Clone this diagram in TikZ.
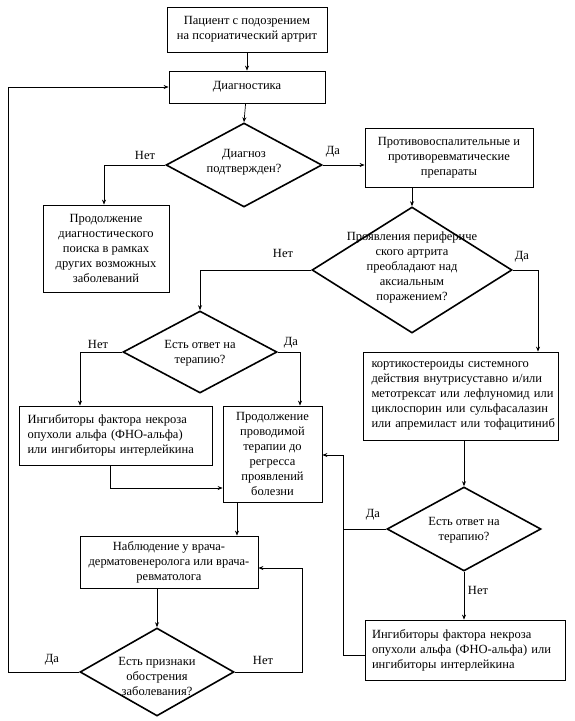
\documentclass[tikz,border=0pt]{standalone}
\usepackage{fontspec}
\setmainfont{Liberation Serif}
\usetikzlibrary{shapes.geometric,arrows.meta}
\newcommand{\fsz}{\fontsize{12.5pt}{15pt}\selectfont}
\begin{document}
\begin{tikzpicture}[x=1pt,y=-1pt,
  box/.style={draw, line width=0.8pt, inner sep=0pt, align=center, font=\fsz},
  dia/.style={draw, diamond, line width=1.6pt, inner sep=0pt},
  txt/.style={inner sep=0pt, align=center, font=\fsz},
  lab/.style={inner sep=0pt, font=\fsz},
  arr/.style={-{Stealth[length=5pt,width=4pt]}, line width=0.7pt},
  ln/.style={line width=0.7pt}]
\useasboundingbox (0,0) rectangle (574,721);
\fill[white] (0,0) rectangle (574,721);

% boxes
\node[box, minimum width=160pt, minimum height=45pt] (b1) at (247,29.5) {Пациент с подозрением\\на псориатический артрит};
\node[box, minimum width=156pt, minimum height=32pt] (b2) at (247,87) {Диагностика};
\node[box, minimum width=126pt, minimum height=87pt] (b3) at (106,248.5) {Продолжение\\диагностического\\поиска в рамках\\других возможных\\заболеваний};
\node[box, minimum width=168pt, minimum height=59pt] (b4) at (449,157.5) {Противовоспалительные и\\противоревматические\\препараты};
\node[box, minimum width=195pt, minimum height=88pt, text width=178pt, align=left] (b5) at (460.5,396)
 {\makebox[178pt][s]{кортикостероиды системного}\\
  \makebox[178pt][s]{действия внутрисуставно и/или}\\
  \makebox[178pt][s]{метотрексат или лефлуномид или}\\
  \makebox[178pt][s]{циклоспорин или сульфасалазин}\\
  \makebox[178pt][s]{или апремиласт или тофацитиниб}};
\node[box, minimum width=193pt, minimum height=59pt, text width=176pt, align=left] (b6) at (115.5,435.5) {Ингибиторы фактора некроза\\опухоли альфа (ФНО-альфа)\\или ингибиторы интерлейкина};
\node[box, minimum width=99pt, minimum height=96pt] (b7) at (272.5,454) {Продолжение\\проводимой\\терапии до\\регресса\\проявлений\\болезни};
\node[box, minimum width=178pt, minimum height=52pt] (b8) at (169,562) {Наблюдение у врача-\\дерматовенеролога или врача-\\ревматолога};
\node[box, minimum width=200pt, minimum height=60pt, text width=186pt, align=left] (b9) at (465,650) {Ингибиторы фактора некроза\\опухоли альфа (ФНО-альфа) или\\ингибиторы интерлейкина};

% diamonds
\node[dia, minimum width=156pt, minimum height=84pt] (d1) at (244,165) {};
\node[txt] (t1) at (244,162) {Диагноз\\подтвержден?};
\node[dia, minimum width=200pt, minimum height=126pt] (d2) at (412,270) {};
\node[txt] (t2) at (412,267) {Проявления перифериче\\ского артрита\\преобладают над\\аксиальным\\поражением?};
\node[dia, minimum width=154pt, minimum height=82pt] (d3) at (200,352) {};
\node[txt] (t3) at (200,353) {Есть ответ на\\терапию?};
\node[dia, minimum width=154pt, minimum height=88pt] (d4) at (157,672) {};
\node[txt] (t4) at (157,676) {Есть признаки\\обострения\\заболевания?};
\node[dia, minimum width=154pt, minimum height=84pt] (d5) at (464,529) {};
\node[txt] (t5) at (464,530) {Есть ответ на\\терапию?};

% helper coordinates
\coordinate (k1) at (538,270);
\coordinate (k2) at (80,352);
\coordinate (k3) at (300,352);
\coordinate (k4) at (110,488);
\coordinate (k5) at (237,0);
\coordinate (k6) at (8,672);
\coordinate (k7) at (302,568);
\coordinate (k8) at (343,455);
\coordinate (k9) at (343,655);
\coordinate (k10) at (104,165);
\coordinate (k11) at (412,0);

% connectors
\draw[arr] (b1) -- (b2);
\draw[arr] (b2) -- (d1.north);
\draw[arr] (d1.west) -- (k10) -- (k10 |- b3.north);
\draw[arr] (d1.east) -- (d1.east -| b4.west);
\draw[arr] (k11 |- b4.south) -- (d2.north);
\draw[arr] (d2.east) -- (k1) -- (k1 |- b5.north);
\draw[arr] (d2.west) -| (d3.north);
\draw[arr] (d3.west) -- (k2) -- (k2 |- b6.north);
\draw[arr] (d3.east) -- (k3) -- (k3 |- b7.north);
\draw[arr] (k4 |- b6.south) -- (k4) -- (k4 -| b7.west);
\draw[arr] (k5 |- b7.south) -- (k5 |- b8.north);
\draw[arr] (d4.north |- b8.south) -- (d4.north);
\draw[arr] (d4.west) -- (k6) |- (b2.west);
\draw[arr] (d4.east) -| (k7) -- (k7 -| b8.east);
\draw[arr] (d5.north |- b5.south) -- (d5.north);
\draw[arr] (d5.south) -- (d5.south |- b9.north);
\draw[arr] (d5.west) -| (k8) -- (k8 -| b7.east);
\draw[ln] (k9 -| b9.west) -- (k9) -- (k8 |- d5.west);

% labels
\node[lab] (l1) at (145,155) {Нет};
\node[lab] (l2) at (333,152) {Да};
\node[lab] (l3) at (283,253) {Нет};
\node[lab] (l4) at (522,257) {Да};
\node[lab] (l5) at (98,344) {Нет};
\node[lab] (l6) at (291,343) {Да};
\node[lab] (l7) at (373,515) {Да};
\node[lab] (l8) at (478,590) {Нет};
\node[lab] (l9) at (52,660) {Да};
\node[lab] (l10) at (263,660) {Нет};
\end{tikzpicture}
\end{document}
